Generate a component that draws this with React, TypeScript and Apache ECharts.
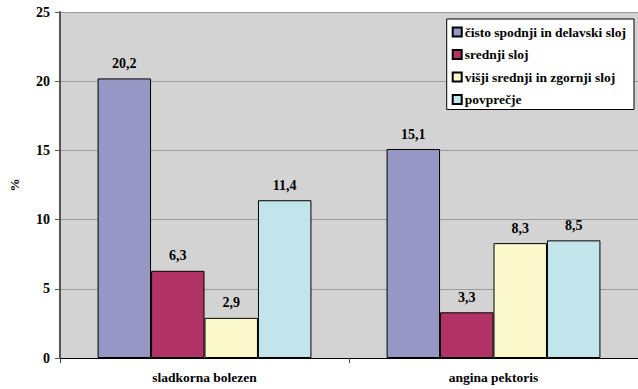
import React, { useEffect, useRef } from "react";
import * as echarts from "echarts";

const categories = ["sladkorna bolezen", "angina pektoris"];
const seriesNames = [
  "čisto spodnji in delavski sloj",
  "srednji sloj",
  "višji srednji in zgornji sloj",
  "povprečje",
];
const values = [
  [20.2, 15.1],
  [6.3, 3.3],
  [2.9, 8.3],
  [11.4, 8.5],
];
const colors = ["#9797c6", "#b13366", "#fbf8cc", "#c2e4eb"];
const yTicks = { min: 0, max: 25, interval: 5 };

const FONT = "Liberation Serif";

export default function App() {
  const ref = useRef<HTMLDivElement>(null);
  useEffect(() => {
    if (!ref.current) return;
    const chart = echarts.init(ref.current, undefined, { renderer: "svg" });
    chart.setOption({
      animation: false,
      backgroundColor: "#ffffff",
      textStyle: { fontFamily: FONT },
      grid: { left: 56, right: 0, top: 12, bottom: 31, show: true, backgroundColor: "#d3d3d3", borderWidth: 0 },
      legend: {
        orient: "vertical",
        right: 4,
        top: 19,
        backgroundColor: "#ffffff",
        borderColor: "#000000",
        borderWidth: 1,
        borderRadius: 0,
        padding: [6, 8, 3, 5],
        itemWidth: 9,
        itemHeight: 9,
        itemGap: 8.5,
        icon: "rect",
        textStyle: { fontFamily: FONT, fontWeight: "bold", fontSize: 13.5, color: "#000", padding: [0, 0, 0, -2] },
        data: seriesNames,
      },
      xAxis: {
        type: "category",
        data: categories,
        axisLine: { lineStyle: { color: "#000", width: 1 } },
        axisTick: { show: true, length: 5, lineStyle: { color: "#444" } },
        axisLabel: { fontFamily: FONT, fontWeight: "bold", fontSize: 13.5, color: "#000", margin: 12 },
      },
      yAxis: {
        type: "value",
        min: yTicks.min,
        max: yTicks.max,
        interval: yTicks.interval,
        name: "%",
        nameLocation: "middle",
        nameGap: 39,
        nameRotate: 90,
        nameTextStyle: { fontFamily: FONT, fontWeight: "bold", fontSize: 13, color: "#000" },
        axisLine: { show: true, lineStyle: { color: "#555", width: 2 } },
        axisTick: { show: true, length: 5, lineStyle: { color: "#555" } },
        splitLine: { lineStyle: { color: "#9a9a9a", width: 1 } },
        axisLabel: { fontFamily: FONT, fontWeight: "bold", fontSize: 14, color: "#000", margin: 10 },
      },
      series: seriesNames.map((name, i) => ({
        name,
        type: "bar",
        data: values[i],
        barGap: "0%",
        barCategoryGap: "26%",
        itemStyle: { color: colors[i], borderColor: "#000", borderWidth: 1 },
        label: {
          show: true,
          position: "top",
          distance: 8,
          formatter: (p: any) => String(p.value).replace(".", ","),
          fontFamily: FONT,
          fontWeight: "bold",
          fontSize: 14,
          color: "#000",
        },
      })),
    });
    return () => chart.dispose();
  }, []);
  return <div ref={ref} style={{ width: 638, height: 389, position: "absolute", left: 0, top: 0 }} />;
}
